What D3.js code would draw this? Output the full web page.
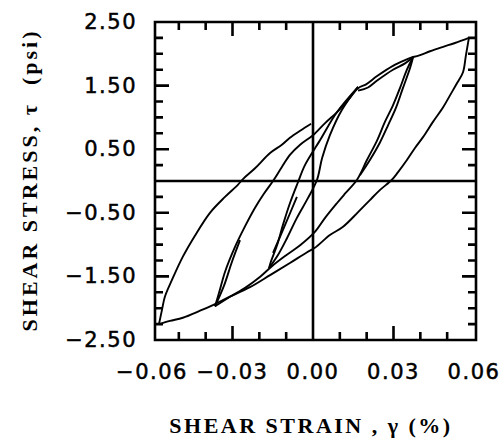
<!DOCTYPE html>
<html>
<head>
<meta charset="utf-8">
<script src="https://cdn.jsdelivr.net/npm/d3@7"></script>
<style>
  body { margin: 0; background: #fff; }
</style>
</head>
<body>
<div id="chart"></div>
<script>
// hysteresis branches, [shear strain (%), shear stress (psi)]
var largeReload = [[-0.0574, -2.25], [-0.0563, -2.03], [-0.0552, -1.82], [-0.0526, -1.56], [-0.0485, -1.19],
  [-0.0440, -0.86], [-0.0384, -0.50], [-0.0328, -0.25], [-0.0280, -0.06], [-0.0261, 0.03], [-0.0216, 0.20],
  [-0.0160, 0.44], [-0.0116, 0.57], [-0.0086, 0.68], [-0.0048, 0.79], [-0.0007, 0.90]]

var largeUnload = [[0.0581, 2.25], [0.0570, 1.98], [0.0559, 1.71], [0.0537, 1.54], [0.0511, 1.35], [0.0485, 1.16],
  [0.0447, 0.93], [0.0410, 0.69], [0.0380, 0.52], [0.0350, 0.33], [0.0317, 0.14], [0.0294, 0.02], [0.0250, -0.14],
  [0.0212, -0.30], [0.0168, -0.49], [0.0112, -0.72], [0.0063, -0.85], [0.0007, -1.05], [-0.0022, -1.12],
  [-0.0086, -1.29], [-0.0160, -1.48], [-0.0235, -1.67], [-0.0321, -1.84], [-0.0373, -1.95], [-0.0421, -2.04],
  [-0.0485, -2.15], [-0.0533, -2.20], [-0.0574, -2.25]]

var largeEnvelope = [[0.0373, 1.95], [0.0399, 1.98], [0.0436, 2.04], [0.0485, 2.11], [0.0529, 2.17], [0.0581, 2.25]]

var mediumLoad = [[-0.0365, -1.97], [-0.0347, -1.71], [-0.0328, -1.43], [-0.0291, -1.04], [-0.0253, -0.71],
  [-0.0216, -0.42], [-0.0183, -0.20], [-0.0149, 0.00], [-0.0116, 0.22], [-0.0086, 0.41], [-0.0048, 0.57],
  [0.0000, 0.72], [0.0045, 0.91], [0.0089, 1.08], [0.0130, 1.27], [0.0168, 1.46], [0.0198, 1.52],
  [0.0239, 1.65], [0.0298, 1.81], [0.0343, 1.90], [0.0373, 1.95]]

var mediumLoadLower = [[0.0168, 1.42], [0.0205, 1.47], [0.0239, 1.58], [0.0298, 1.75], [0.0343, 1.85], [0.0373, 1.95]]

var mediumUnload = [[0.0373, 1.95], [0.0350, 1.75], [0.0324, 1.46], [0.0298, 1.19], [0.0268, 0.93], [0.0239, 0.64],
  [0.0201, 0.33], [0.0164, 0.02], [0.0119, -0.20], [0.0089, -0.35], [0.0045, -0.58], [0.0007, -0.80],
  [-0.0048, -1.01], [-0.0104, -1.18], [-0.0153, -1.34], [-0.0198, -1.51], [-0.0253, -1.68], [-0.0309, -1.82],
  [-0.0365, -1.97]]

var mediumUnloadLens = [[0.0373, 1.95], [0.0362, 1.78], [0.0335, 1.46], [0.0309, 1.15], [0.0280, 0.88],
  [0.0250, 0.61], [0.0212, 0.33], [0.0175, 0.09]]

var mediumLoadLens = [[-0.0365, -1.97], [-0.0332, -1.65], [-0.0302, -1.27], [-0.0272, -0.93]]

var smallUnloadA = [[0.0168, 1.48], [0.0089, 1.08], [0.0026, 0.64], [-0.0030, 0.25], [-0.0056, -0.02],
  [-0.0086, -0.35], [-0.0112, -0.69], [-0.0134, -1.01], [-0.0157, -1.27], [-0.0164, -1.37]]

var smallUnloadB = [[0.0168, 1.48], [0.0108, 1.12], [0.0063, 0.72], [0.0034, 0.36], [0.0015, 0.02],
  [-0.0019, -0.27], [-0.0060, -0.58], [-0.0097, -0.90], [-0.0130, -1.16], [-0.0164, -1.37]]

var smallTail = [[-0.0149, -1.13], [-0.0104, -0.69], [-0.0060, -0.25]]

var strainTicks = [-0.06, -0.03, 0, 0.03, 0.06]
var stressTicks = [2.5, 1.5, 0.5, -0.5, -1.5, -2.5]
var strainMinor = [-0.05, -0.04, -0.02, -0.01, 0.01, 0.02, 0.04, 0.05]
var strainMajor = [-0.03, 0.03]
var stressMinor = [-2.25, -2, -1.75, -1.25, -1, -0.75, -0.25, 0.25, 0.75, 1, 1.25, 1.75, 2, 2.25]
var stressMajor = [-1.5, -0.5, 0.5, 1.5]

var branches = [largeReload, largeUnload, largeEnvelope, mediumLoad, mediumLoadLower, mediumUnload,
  mediumUnloadLens, mediumLoadLens, smallUnloadA, smallUnloadB, smallTail]

;(function () {
  var margin = { top: 22, right: 27, bottom: 107, left: 155 }
  var width = 503 - margin.left - margin.right
  var height = 447 - margin.top - margin.bottom

  var svg = d3
    .select('#chart')
    .append('svg')
    .attr('width', 503)
    .attr('height', 447)
    .append('g')
    .attr('transform', 'translate(' + margin.left + ',' + margin.top + ')')

  // the end ticks sit a little outside the frame in the original
  var xPositionScale = d3.scaleLinear()
    .domain([-0.06, 0.06])
    .range([-3, width - 2])

  var yPositionScale = d3.scaleLinear()
    .domain([-2.5, 2.5])
    .range([height, 0])

  var fmt = d3.format('.2f')

  // frame, zero lines and inward tick marks as one path
  var p = d3.path()
  p.rect(0, 0, width, height)
  p.moveTo(xPositionScale(0), 0)
  p.lineTo(xPositionScale(0), height)
  p.moveTo(0, yPositionScale(0))
  p.lineTo(width, yPositionScale(0))

  function xTick (v, len) {
    var x = xPositionScale(v)
    p.moveTo(x, height)
    p.lineTo(x, height - len)
    p.moveTo(x, 0)
    p.lineTo(x, len)
  }
  function yTick (v, len) {
    var y = yPositionScale(v)
    p.moveTo(0, y)
    p.lineTo(len, y)
    p.moveTo(width, y)
    p.lineTo(width - len, y)
  }
  strainMinor.forEach(v => xTick(v, 8))
  strainMajor.forEach(v => xTick(v, 14))
  stressMinor.forEach(v => yTick(v, 8))
  stressMajor.forEach(v => yTick(v, 14))

  svg.append('path')
    .attr('d', p.toString())
    .attr('fill', 'none')
    .attr('stroke', '#000')
    .attr('stroke-width', 2.6)

  var line = d3.line()
    .x(d => xPositionScale(d[0]))
    .y(d => yPositionScale(d[1]))
    .curve(d3.curveCatmullRom)

  svg.selectAll('.branch')
    .data(branches)
    .enter().append('path')
    .attr('class', 'branch')
    .attr('d', line)
    .attr('fill', 'none')
    .attr('stroke', '#000')
    .attr('stroke-width', 1.9)
    .attr('stroke-linejoin', 'round')

  // tick labels
  svg.selectAll('.x-label')
    .data(strainTicks)
    .enter().append('text')
    .attr('class', 'x-label')
    .attr('x', d => xPositionScale(d))
    .attr('y', height + 39)
    .attr('text-anchor', 'middle')
    .attr('font-family', 'DejaVu Sans, sans-serif')
    .attr('font-size', 21)
    .attr('letter-spacing', 1.5)
    .attr('stroke', '#000')
    .attr('stroke-width', 0.5)
    .text(d => fmt(d))

  svg.selectAll('.y-label')
    .data(stressTicks)
    .enter().append('text')
    .attr('class', 'y-label')
    .attr('x', -18)
    .attr('y', d => yPositionScale(d) + 7)
    .attr('text-anchor', 'end')
    .attr('font-family', 'DejaVu Sans, sans-serif')
    .attr('font-size', 21)
    .attr('letter-spacing', 1.5)
    .attr('stroke', '#000')
    .attr('stroke-width', 0.5)
    .text(d => fmt(d))

  // axis titles
  svg.append('text')
    .attr('x', 311 - margin.left)
    .attr('y', 433 - margin.top)
    .attr('text-anchor', 'middle')
    .attr('font-family', 'Liberation Serif, serif')
    .attr('font-weight', 'bold')
    .attr('font-size', 22)
    .attr('letter-spacing', 2.5)
    .text('SHEAR STRAIN , γ (%)')

  svg.append('text')
    .attr('transform', 'translate(' + (37 - margin.left) + ',' + (180 - margin.top) + ') rotate(-90)')
    .attr('text-anchor', 'middle')
    .attr('font-family', 'Liberation Serif, serif')
    .attr('font-weight', 'bold')
    .attr('font-size', 22)
    .attr('letter-spacing', 3)
    .attr('xml:space', 'preserve')
    .text('SHEAR STRESS, τ  (psi)')
})()
</script>
</body>
</html>
